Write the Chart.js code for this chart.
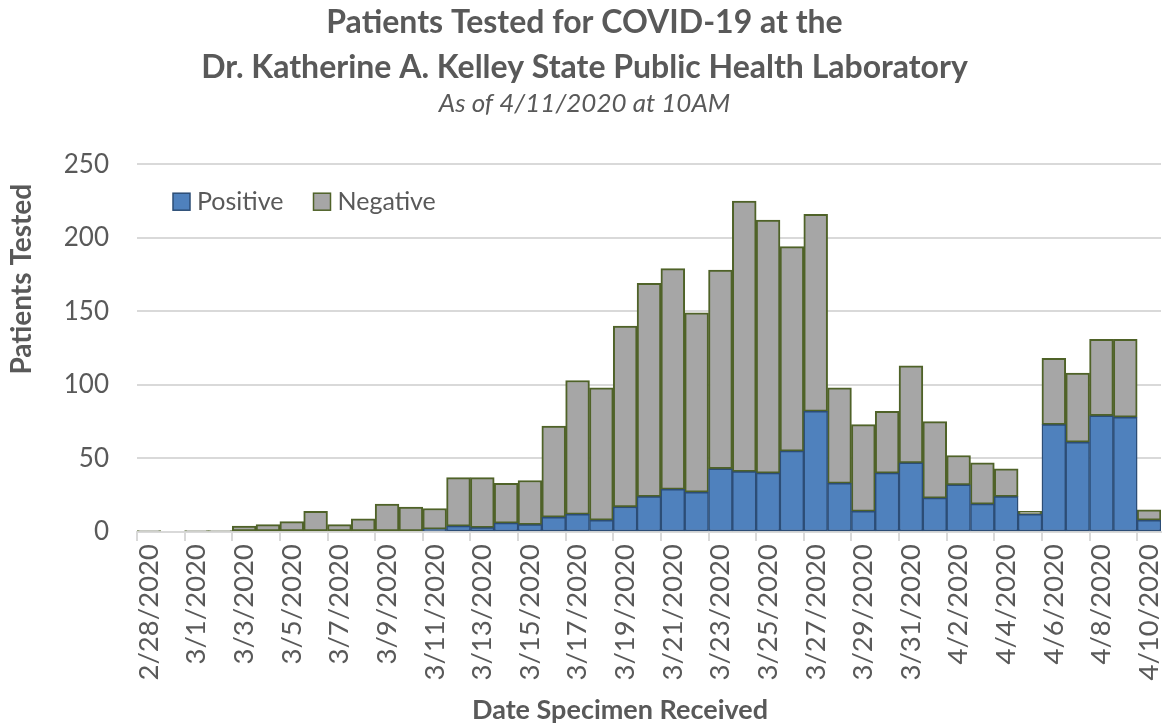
<!DOCTYPE html>
<html>
<head>
<meta charset="utf-8">
<script src="https://cdn.jsdelivr.net/npm/chart.js@4"></script>
<style>
  html, body { margin: 0; padding: 0; background: #fff; }
  #wrap { width: 1165px; height: 727px; }
</style>
</head>
<body>
<div id="wrap"><canvas id="chart" width="1165" height="727"></canvas></div>
<script>
const dates = ["2/28/2020","2/29/2020","3/1/2020","3/2/2020","3/3/2020","3/4/2020","3/5/2020","3/6/2020",
  "3/7/2020","3/8/2020","3/9/2020","3/10/2020","3/11/2020","3/12/2020","3/13/2020","3/14/2020",
  "3/15/2020","3/16/2020","3/17/2020","3/18/2020","3/19/2020","3/20/2020","3/21/2020","3/22/2020",
  "3/23/2020","3/24/2020","3/25/2020","3/26/2020","3/27/2020","3/28/2020","3/29/2020","3/30/2020",
  "3/31/2020","4/1/2020","4/2/2020","4/3/2020","4/4/2020","4/5/2020","4/6/2020","4/7/2020",
  "4/8/2020","4/9/2020","4/10/2020"];
// positive results per day
const positive = [0,0,0,0,0,0,0,0, 0,0,0,0,2,4,3,6, 5,10,12,8,17,24,29,27,
  43,41,40,55,82,33,14,40, 47,23,32,19,24,12,73,61, 79,78,8];
// negative results per day
const negative = [1,0,1,1,4,5,7,14, 5,9,19,17,14,33,34,27, 30,62,91,90,123,145,150,122,
  135,184,172,139,134,65,59,42, 66,52,20,28,19,2,45,47, 52,53,7];
const yTicks = [0,50,100,150,200,250];

const txt = "#595959";
const fam = "Lato, 'Open Sans', sans-serif";

// legend drawn inside the plot, top-left, like the Excel original
const insideLegend = {
  id: "insideLegend",
  afterDraw(chart) {
    const c = chart.ctx, a = chart.chartArea;
    let x = a.left + 36;
    const y = a.top + 38;
    c.save();
    c.font = "25px " + fam;
    c.textBaseline = "middle";
    chart.data.datasets.forEach((ds) => {
      c.fillStyle = ds.backgroundColor;
      c.fillRect(x, y - 9, 17, 17);
      c.strokeStyle = ds.borderColor;
      c.lineWidth = 1.5;
      c.strokeRect(x, y - 9, 17, 17);
      c.fillStyle = txt;
      c.fillText(ds.label, x + 24, y);
      x += 24 + c.measureText(ds.label).width + 30;
    });
    c.restore();
  },
};

// axis titles are placed off-centre in the original, so draw them here
const axisTitles = {
  id: "axisTitles",
  afterDraw(chart) {
    const c = chart.ctx, a = chart.chartArea;
    c.save();
    c.fillStyle = txt;
    c.textAlign = "center";
    c.textBaseline = "middle";
    c.font = "bold 28px " + fam;
    c.translate(22, a.top + 115);
    c.rotate(-Math.PI / 2);
    c.fillText("Patients Tested", 0, 0);
    c.restore();
    c.save();
    c.fillStyle = txt;
    c.textAlign = "center";
    c.textBaseline = "middle";
    c.font = "bold 27px " + fam;
    c.fillText("Date Specimen Received", 620, chart.height - 17);
    c.restore();
  },
};

const ctx = document.getElementById("chart").getContext("2d");
const chart = new Chart(ctx, {
  type: "bar",
  data: {
    labels: dates,
    datasets: [
      {
        label: "Positive",
        data: positive,
        backgroundColor: "#4f81bd",
        borderColor: "#2c4d76",
        borderWidth: 1.5,
        borderSkipped: false,
      },
      {
        label: "Negative",
        data: negative,
        backgroundColor: "#a6a6a6",
        borderColor: "#4f6228",
        borderWidth: 2,
        borderSkipped: false,
      },
    ],
  },
  options: {
    responsive: false,
    animation: false,
    layout: { padding: { left: 8, right: 4, top: 0, bottom: 4 } },
    datasets: { bar: { barPercentage: 1, categoryPercentage: 1 } },
    scales: {
      x: {
        stacked: true,
        offset: true,
        afterFit: (s) => {
          s.height = 191;
          s.paddingLeft = 0;
          s.paddingRight = 0;
        },
        grid: {
          offset: true,
          drawOnChartArea: false,
          drawTicks: true,
          tickLength: 9,
          lineWidth: 2,
          color: (c) => (c.index % 2 === 0 ? "#d9d9d9" : "rgba(0,0,0,0)"),
        },
        border: { display: true, color: "#d9d9d9", width: 2 },
        ticks: {
          autoSkip: false,
          maxRotation: 90,
          minRotation: 90,
          color: txt,
          font: { family: fam, size: 27.5 },
          padding: 3,
          callback: function (val, i) {
            return i % 2 === 0 ? dates[i] : "";
          },
        },
      },
      y: {
        stacked: true,
        min: 0,
        max: 250,
        afterFit: (s) => { s.width = 129; },
        afterBuildTicks: (s) => { s.ticks = yTicks.map((v) => ({ value: v })); },
        grid: { color: "#d9d9d9", lineWidth: 2, drawTicks: false },
        border: { display: false },
        ticks: {
          color: txt,
          font: { family: fam, size: 26 },
          padding: 28,
        },
      },
    },
    plugins: {
      title: {
        display: true,
        text: ["Patients Tested for COVID-19 at the", "Dr. Katherine A. Kelley State Public Health Laboratory"],
        color: txt,
        font: { family: fam, size: 32, weight: "bold", lineHeight: 1.4 },
        padding: { top: 0, bottom: 0 },
      },
      subtitle: {
        display: true,
        text: "As of 4/11/2020 at 10AM",
        color: txt,
        font: { family: fam, size: 26, style: "italic", lineHeight: 1.1 },
        padding: { top: 0, bottom: 46 },
      },
      legend: { display: false },
      tooltip: { enabled: false },
    },
  },
  plugins: [insideLegend, axisTitles],
});
</script>
</body>
</html>
